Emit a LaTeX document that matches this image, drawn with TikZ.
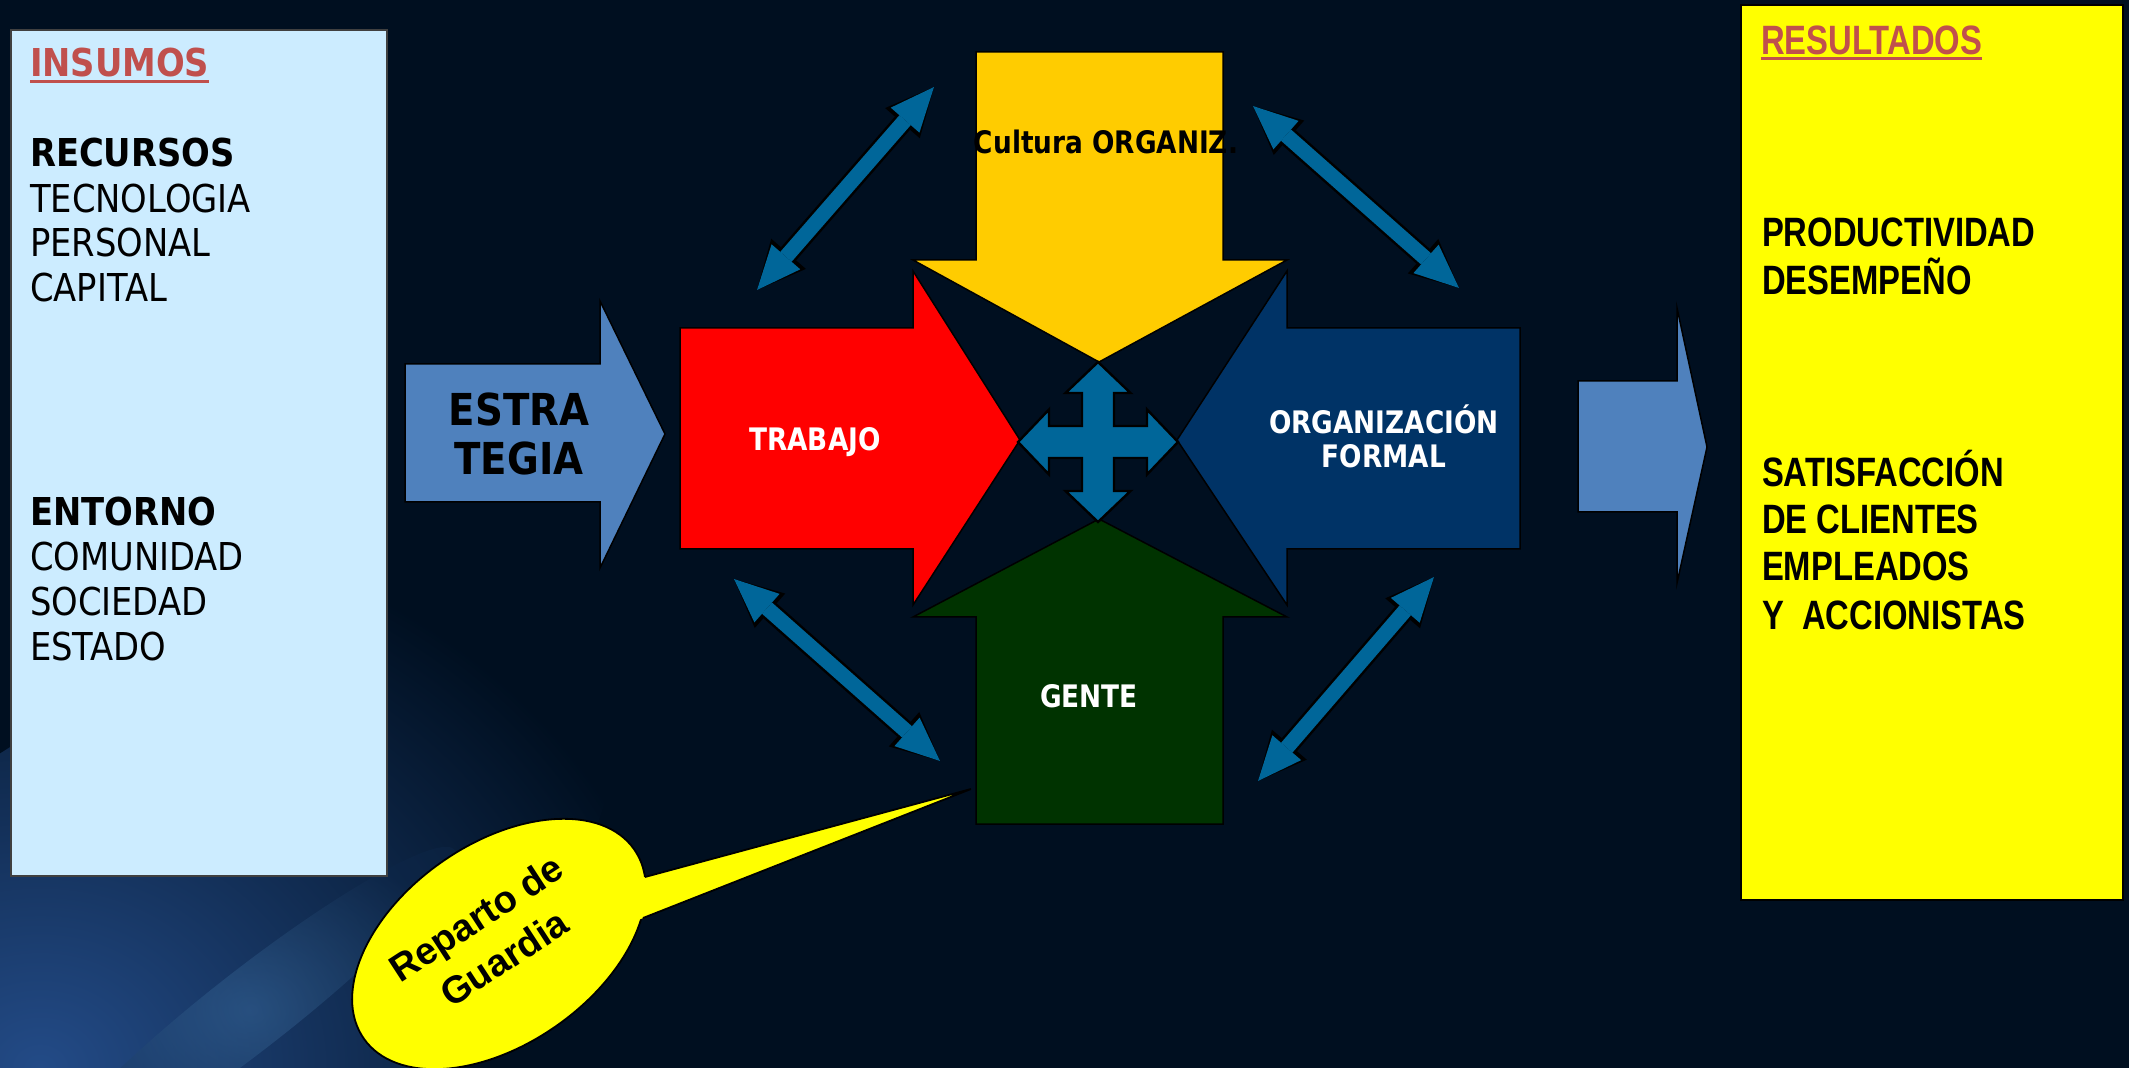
\documentclass[tikz,border=0pt]{standalone}
\usepackage{fontspec}
\newfontfamily\lfont[FakeStretch=0.88]{DejaVu Sans}
\newfontfamily\cfont[FakeStretch=0.85]{DejaVu Sans}
\newfontfamily\rfont[FakeStretch=0.8]{Liberation Sans}
\newfontfamily\gfont{Liberation Sans}
\usetikzlibrary{arrows.meta}
\definecolor{bg}{RGB}{0,15,32}
\definecolor{glow}{RGB}{35,75,135}
\definecolor{streak}{RGB}{60,110,160}
\definecolor{lbox}{RGB}{204,236,255}
\definecolor{hdr}{RGB}{192,80,77}
\definecolor{estra}{RGB}{79,129,189}
\definecolor{ylw}{RGB}{255,204,0}
\definecolor{navy}{RGB}{0,51,102}
\definecolor{dgreen}{RGB}{0,51,0}
\definecolor{crossblue}{RGB}{0,102,153}
\definecolor{lemon}{RGB}{255,255,0}
\tikzset{
  ltxt/.style={inner sep=0pt, outer sep=0pt, anchor=base west, font=\lfont\fontsize{19.2pt}{22pt}\selectfont},
  rtxt/.style={inner sep=0pt, outer sep=0pt, anchor=base west, font=\rfont\bfseries\fontsize{20.5pt}{24pt}\selectfont},
  ctxt/.style={inner sep=0pt, outer sep=0pt, anchor=base, font=\cfont\bfseries\fontsize{15.5pt}{18pt}\selectfont},
  gtxt/.style={inner sep=0pt, outer sep=0pt, rotate=33, font=\gfont\bfseries\fontsize{19pt}{22pt}\selectfont},
  bigarrow/.style={draw=black, line width=0.75pt, line join=miter},
  dblunder/.style={draw=black, line width=10pt,
    {Triangle[length=24pt,width=23pt,line width=0pt]}-{Triangle[length=24pt,width=23pt,line width=0pt]}},
  dblover/.style={draw=crossblue, line width=7.5pt,
    {Triangle[length=22pt,width=19pt,line width=0pt]}-{Triangle[length=22pt,width=19pt,line width=0pt]}},
  uline/.style={line width=1.5pt},
}
\begin{document}
\begin{tikzpicture}[x=0.5pt,y=-0.5pt]
\useasboundingbox (0,0) rectangle (2129,1068);
\fill[bg] (0,0) rectangle (2129,1068);
\begin{scope}
  \clip (0,0) rectangle (2129,1068);
  \shade[inner color=glow, outer color=bg, rotate around={38:(40,1068)}] (40,1068) ellipse [x radius=700, y radius=280];
  \shade[inner color=streak, outer color=glow!40!bg, rotate around={38:(250,1010)}, opacity=0.45] (250,1010) ellipse [x radius=260, y radius=40];
\end{scope}

% ---------- left box ----------
\draw[fill=lbox, draw=black!75, line width=0.75pt] (11,30) rectangle (387,876);
\node[ltxt, text=hdr] (insumos) at (30,77) {\bfseries INSUMOS};
\draw[hdr, uline] ([yshift=-2.5pt]insumos.base west) -- ([yshift=-2.5pt]insumos.base east);
\node[ltxt] (recursos) at (30,167) {\bfseries RECURSOS};
\node[ltxt] (tecno) at (30,213) {TECNOLOGIA};
\node[ltxt] (personal) at (30,257) {PERSONAL};
\node[ltxt] (capital) at (30,302) {CAPITAL};
\node[ltxt] (entorno) at (30,526) {\bfseries ENTORNO};
\node[ltxt] (comunidad) at (30,571) {COMUNIDAD};
\node[ltxt] (sociedad) at (30,616) {SOCIEDAD};
\node[ltxt] (estado) at (30,661) {ESTADO};

% ---------- ESTRATEGIA arrow ----------
\draw[bigarrow, fill=estra] (405,364) -- (600,364) -- (600,301) -- (665,434) -- (600,568) -- (600,502) -- (405,502) -- cycle;
\node[inner sep=0pt, anchor=base, font=\lfont\bfseries\fontsize{22pt}{24.5pt}\selectfont] (estra) at (519,426) {ESTRA};
\node[inner sep=0pt, anchor=base, font=\lfont\bfseries\fontsize{22pt}{24.5pt}\selectfont] (tegia) at (519,475) {TEGIA};

% ---------- central arrows ----------
\draw[bigarrow, fill=ylw] (976,52) -- (1223,52) -- (1223,260) -- (1287,260) -- (1099,362) -- (913,260) -- (976,260) -- cycle;
\draw[bigarrow, fill=red] (680,328) -- (913,328) -- (913,271) -- (1020,440) -- (913,605) -- (913,549) -- (680,549) -- cycle;
\draw[bigarrow, fill=navy] (1520,328) -- (1287,328) -- (1287,271) -- (1177,440) -- (1287,605) -- (1287,549) -- (1520,549) -- cycle;
\draw[bigarrow, fill=dgreen] (976,824) -- (1223,824) -- (1223,617) -- (1287,617) -- (1099,519) -- (913,617) -- (976,617) -- cycle;

\node[ctxt, text=black] (cultura) at (1106,154) {Cultura ORGANIZ.};
\node[ctxt, text=white] (trabajo) at (815,451) {TRABAJO};
\node[ctxt, text=white] (orgf1) at (1384,434) {ORGANIZACIÓN};
\node[ctxt, text=white] (orgf2) at (1384,468) {FORMAL};
\node[ctxt, text=white] (gente) at (1089,707) {GENTE};

% four-way arrow
\begin{scope}[shift={(1098,442)}]
\draw[fill=crossblue, draw=black, line width=1.2pt, line join=miter]
 (0,-80) -- (32.5,-49) -- (16,-49) -- (16,-16) -- (49,-16) -- (49,-32.5) -- (80,0)
 -- (49,32.5) -- (49,16) -- (16,16) -- (16,49) -- (32.5,49) -- (0,80)
 -- (-32.5,49) -- (-16,49) -- (-16,16) -- (-49,16) -- (-49,32.5) -- (-80,0)
 -- (-49,-32.5) -- (-49,-16) -- (-16,-16) -- (-16,-49) -- (-32.5,-49) -- cycle;
\end{scope}

% diagonal double arrows
\coordinate (ula) at (757,290); \coordinate (ulb) at (934,87);
\coordinate (ura) at (1253,106); \coordinate (urb) at (1459,288);
\coordinate (lla) at (734,579); \coordinate (llb) at (940,761);
\coordinate (lra) at (1434,577); \coordinate (lrb) at (1258,781);
\foreach \a/\b in {ula/ulb, ura/urb, lla/llb, lra/lrb}{
  \draw[dblunder] (\a) -- (\b);
  \draw[dblover] (\a) -- (\b);
}

% ---------- result arrow ----------
\draw[bigarrow, fill=estra] (1578,381) -- (1677,381) -- (1677,308) -- (1707,447) -- (1677,583) -- (1677,512) -- (1578,512) -- cycle;

% ---------- right box ----------
\draw[fill=lemon, draw=black, line width=1pt] (1741,5) rectangle (2123,900);
\node[rtxt, text=hdr] (resultados) at (1761,55) {RESULTADOS};
\draw[hdr, uline] ([yshift=-2pt]resultados.base west) -- ([yshift=-2pt]resultados.base east);
\node[rtxt] (prod) at (1762,247) {PRODUCTIVIDAD};
\node[rtxt] (desemp) at (1762,295) {DESEMPEÑO};
\node[rtxt] (satis) at (1762,487) {SATISFACCIÓN};
\node[rtxt] (clientes) at (1762,534) {DE CLIENTES};
\node[rtxt] (empleados) at (1762,581) {EMPLEADOS};
\node[rtxt] (accion) at (1762,630) {Y\ \ ACCIONISTAS};

% ---------- callout ----------
\coordinate (tip) at (971,789);
\coordinate (t1) at (645,877);
\coordinate (t2) at (643,918);
\draw[fill=lemon, draw=black, line width=0.9pt, rotate around={35:(499,944)}] (499,944) ellipse [x radius=165, y radius=100];
\fill[lemon] (tip) -- (625.7,882.3) -- (624.4,925.4) -- cycle;
\draw[black, line width=0.9pt, line join=miter] (t1) -- (tip) -- (t2);
\node[gtxt] (reparto) at (478,921) {Reparto de};
\node[gtxt] (guardia) at (504,958) {Guardia};
\end{tikzpicture}
\end{document}
